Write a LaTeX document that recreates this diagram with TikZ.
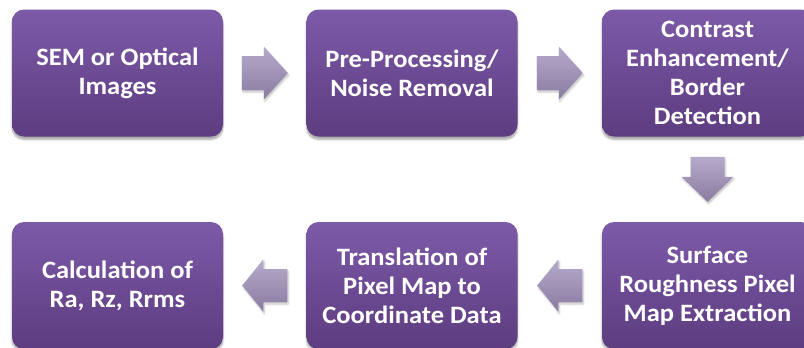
\documentclass[tikz,border=0pt]{standalone}
\usepackage{fontspec}
\setmainfont{Carlito}[FakeStretch=1.06]
\usetikzlibrary{shadows.blur,calc}
\definecolor{boxtop}{HTML}{7D5AA8}
\definecolor{boxbot}{HTML}{5D3C80}
\definecolor{arrtop}{HTML}{B6AACB}
\definecolor{arrbot}{HTML}{8A7BA1}

\begin{document}
\begin{tikzpicture}[x=1pt,y=-1pt,
  stepbox/.style={rounded corners=12pt, top color=boxtop, bottom color=boxbot,
    draw=none, minimum width=211pt, minimum height=127pt, inner sep=0pt,
    text=white, align=center,
    font=\bfseries\fontsize{25}{28.8}\selectfont,
    blur shadow={shadow xshift=0pt, shadow yshift=-3pt, shadow opacity=35, shadow blur steps=6}},
  arrowfill/.style={top color=arrtop, bottom color=arrbot, draw=none,
    blur shadow={shadow xshift=1pt, shadow yshift=-2pt, shadow opacity=25, shadow blur steps=4}},
  % block arrows drawn around their centre point
  pics/rightarrow/.style={code={
    \path[arrowfill] (-23,-17) -- (-1,-17) -- (-1,-26.5) -- (23,0)
      -- (-1,26.5) -- (-1,17) -- (-23,17) -- cycle;}},
  pics/downarrow/.style={code={
    \path[arrowfill] (-17,-22.5) -- (17,-22.5) -- (17,-2.5) -- (26,-2.5)
      -- (0,22.5) -- (-26,-2.5) -- (-17,-2.5) -- cycle;}},
  pics/leftarrow/.style={code={
    \path[arrowfill] (22.5,-16.5) -- (-1.5,-16.5) -- (-1.5,-26) -- (-22.5,0)
      -- (-1.5,26) -- (-1.5,16.5) -- (22.5,16.5) -- cycle;}}]
  \useasboundingbox (0,0) rectangle (804,348);
  \clip (0,0) rectangle (804,348);

  % process steps, top row left to right, bottom row right to left
  \node[stepbox] (sem)  at (117.5,73)  {SEM or Optical\\Images};
  \node[stepbox] (pre)  at (412,73)    {Pre-Processing/\\Noise Removal};
  \node[stepbox] (con)  at (707.5,73)  {Contrast\\Enhancement/\\Border\\Detection};
  \node[stepbox] (surf) at (707.5,285.5) {Surface\\Roughness Pixel\\Map Extraction};
  \node[stepbox] (tran) at (412,285.5) {Translation of\\Pixel Map to\\Coordinate Data};
  \node[stepbox] (calc) at (117.5,285.5) {Calculation of\\Ra, Rz, Rrms};

  % block arrows between the steps
  \coordinate (m1) at ($(sem.east)!0.5!(pre.west)$);
  \coordinate (m2) at ($(pre.east)!0.5!(con.west)$);
  \coordinate (m3) at ($(con.south)!0.5!(surf.north)$);
  \coordinate (m4) at ($(surf.west)!0.5!(tran.east)$);
  \coordinate (m5) at ($(tran.west)!0.5!(calc.east)$);
  \pic (a1) at (m1) {rightarrow};
  \pic (a2) at (m2) {rightarrow};
  \pic (a3) at (m3) {downarrow};
  \pic (a4) at (m4) {leftarrow};
  \pic (a5) at (m5) {leftarrow};
\end{tikzpicture}
\end{document}
